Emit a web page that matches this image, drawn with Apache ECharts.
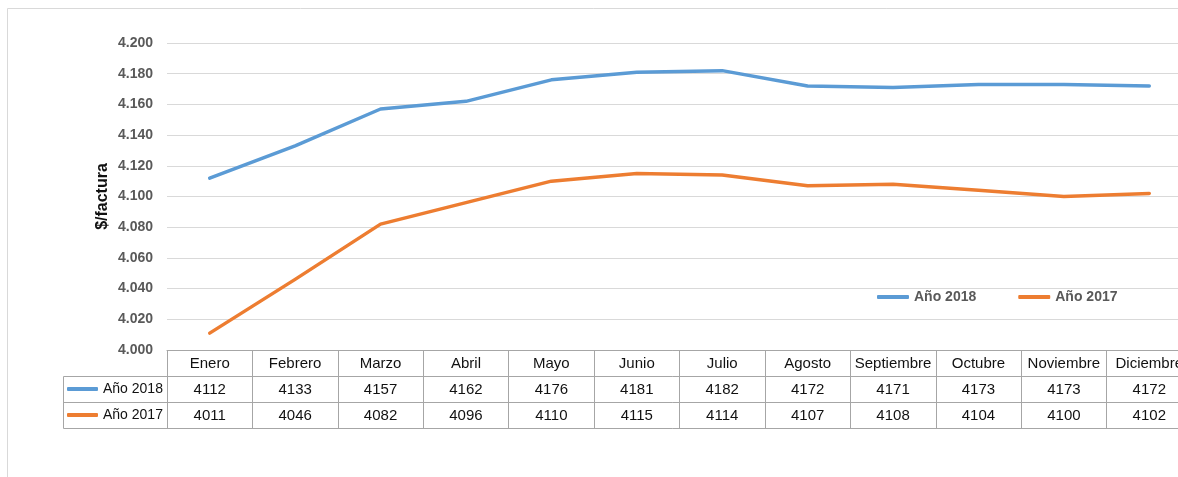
<!DOCTYPE html>
<html>
<head>
<meta charset="utf-8">
<script src="https://cdn.jsdelivr.net/npm/echarts@6/dist/echarts.min.js"></script>
<style>html,body{margin:0;padding:0;background:#fff;}#c{width:1178px;height:477px;}</style>
</head>
<body>
<div id="c"></div>
<script>
var months = ['Enero','Febrero','Marzo','Abril','Mayo','Junio','Julio','Agosto','Septiembre','Octubre','Noviembre','Diciembre'];
var v2018 = [4112,4133,4157,4162,4176,4181,4182,4172,4171,4173,4173,4172];
var v2017 = [4011,4046,4082,4096,4110,4115,4114,4107,4108,4104,4100,4102];
var seriesNames = ['Año 2018','Año 2017'];
var yTitle = '$/factura';

var FONT = 'Liberation Sans, Arial, sans-serif';
var BORDER = '#a6a6a6';
var chart = echarts.init(document.getElementById('c'), null, {renderer:'canvas'});

function fmt(v){ var s = String(Math.round(v)); return s.length > 3 ? s.slice(0, s.length-3) + '.' + s.slice(-3) : s; }

function tableAxis(offset, formatter, showLabel){
  return {
    type:'category', data: months, position:'bottom', offset: offset, boundaryGap:true,
    axisLine:{show:true, lineStyle:{color:BORDER, width:1}},
    axisTick:{show: showLabel, interval:0, length:26, lineStyle:{color:BORDER, width:1}},
    axisLabel:{show: showLabel, interval:0, margin:6, fontSize:15, lineHeight:15, color:'#111', fontFamily:FONT, formatter: formatter},
    splitLine:{show:false}
  };
}

var option = {
  backgroundColor:'#fff',
  animation:false,
  grid:{left:167, top:43, width:1025, height:307, containLabel:false, outerBoundsMode:'none'},
  xAxis:[
    tableAxis(0, function(v){ return v; }, true),
    tableAxis(26, function(v, i){ return String(v2018[i]); }, true),
    tableAxis(52, function(v, i){ return String(v2017[i]); }, true),
    tableAxis(78, function(){ return ''; }, false)
  ],
  yAxis:{
    type:'value', min:4000, max:4200, interval:20,
    name: yTitle, nameLocation:'middle', nameGap:56, nameRotate:90, nameMoveOverlap:false,
    nameTextStyle:{fontSize:16, fontWeight:'bold', color:'#111', fontFamily:FONT},
    axisLine:{show:false}, axisTick:{show:false},
    axisLabel:{margin:14, fontSize:14, fontWeight:'bold', color:'#595959', fontFamily:FONT, formatter: fmt},
    splitLine:{show:true, lineStyle:{color:'#d9d9d9', width:1}}
  },
  legend:[
    {
      data: seriesNames, left:877, top:290, padding:0, orient:'horizontal', itemGap:42,
      icon:'roundRect', itemWidth:32, itemHeight:4,
      textStyle:{fontSize:14, lineHeight:14, fontWeight:'bold', color:'#595959', fontFamily:FONT}
    },
    {
      data: seriesNames, left:67, top:382, padding:0, orient:'vertical', itemGap:12,
      icon:'roundRect', itemWidth:31, itemHeight:4,
      textStyle:{fontSize:14, lineHeight:14, color:'#111', fontFamily:FONT}
    }
  ],
  graphic:[
    {type:'rect', silent:true, z:-10, shape:{x:7.5, y:8.5, width:1400, height:700}, style:{fill:'none', stroke:'#d9d9d9', lineWidth:1}},
    {type:'rect', silent:true, shape:{x:63.5, y:376.5, width:104, height:52}, style:{fill:'none', stroke:BORDER, lineWidth:1}},
    {type:'line', silent:true, shape:{x1:63.5, y1:402.5, x2:167.5, y2:402.5}, style:{stroke:BORDER, lineWidth:1}}
  ],
  series:[
    {name:seriesNames[0], type:'line', data:v2018, xAxisIndex:0, symbol:'none', smooth:false,
     color:'#5b9bd5', lineStyle:{width:3.5, color:'#5b9bd5', cap:'round', join:'round'}},
    {name:seriesNames[1], type:'line', data:v2017, xAxisIndex:0, symbol:'none', smooth:false,
     color:'#ed7d31', lineStyle:{width:3.5, color:'#ed7d31', cap:'round', join:'round'}}
  ]
};
chart.setOption(option);
</script>
</body>
</html>
